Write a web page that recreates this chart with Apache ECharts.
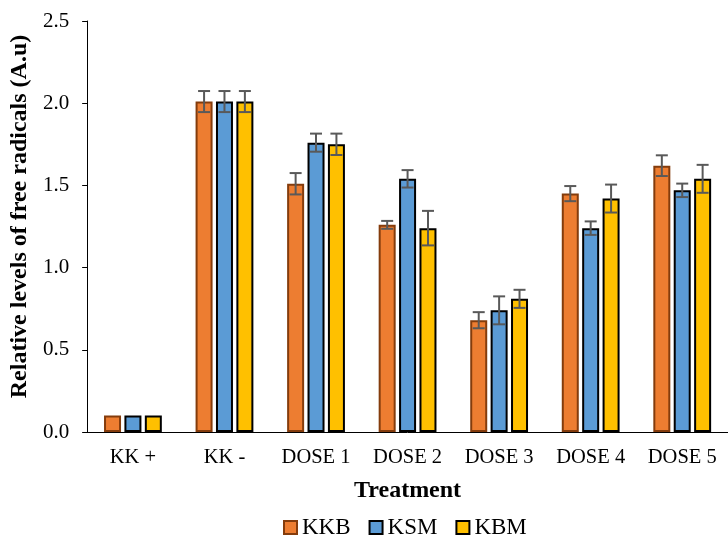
<!DOCTYPE html>
<html>
<head>
<meta charset="utf-8">
<script src="https://cdn.jsdelivr.net/npm/echarts@6/dist/echarts.min.js"></script>
<style>
html,body{margin:0;padding:0;background:#fff;}
#chart{width:728px;height:538px;}
</style>
</head>
<body>
<div id="chart"></div>
<script>
// categories and values
var categories = ['KK +', 'KK -', 'DOSE 1', 'DOSE 2', 'DOSE 3', 'DOSE 4', 'DOSE 5'];
var seriesNames = ['KKB', 'KSM', 'KBM'];
var kkb = [0.10, 2.01, 1.51, 1.26, 0.68, 1.45, 1.62];
var ksm = [0.10, 2.01, 1.76, 1.54, 0.74, 1.24, 1.47];
var kbm = [0.10, 2.01, 1.75, 1.24, 0.81, 1.42, 1.54];
var kkbErr = [0, 0.064, 0.065, 0.024, 0.049, 0.046, 0.063];
var ksmErr = [0, 0.064, 0.055, 0.053, 0.085, 0.041, 0.041];
var kbmErr = [0, 0.064, 0.065, 0.105, 0.055, 0.085, 0.085];
var yTicks = ['0.0', '0.5', '1.0', '1.5', '2.0', '2.5'];

var values = [kkb, ksm, kbm];
var errors = [kkbErr, ksmErr, kbmErr];
var fills = ['#ED7D31', '#5B9BD5', '#FFC000'];
var borders = ['#843C0C', '#000000', '#000000'];
var barW = 17;
var gapW = 3.4;
var font = '"Liberation Serif", "Times New Roman", serif';

var myChart = echarts.init(document.getElementById('chart'));

var series = [];
for (var s = 0; s < 3; s++) {
	series.push({
		name: seriesNames[s],
		type: 'bar',
		data: values[s],
		barWidth: barW,
		barGap: '20%',
		itemStyle: { color: fills[s], borderColor: borders[s], borderWidth: 2 }
	});
}
// error bars, placed on the same category scale as the bars
for (var s = 0; s < 3; s++) {
	var errData = [];
	for (var i = 0; i < categories.length; i++) {
		if (errors[s][i] > 0) {
			errData.push([i, values[s][i] - errors[s][i], values[s][i] + errors[s][i]]);
		}
	}
	series.push({
		type: 'custom',
		name: seriesNames[s],
		z: 5,
		silent: true,
		data: errData,
		renderItem: (function (idx) {
			return function (params, api) {
				var off = (idx - 1) * (barW + gapW);
				var lo = api.coord([api.value(0), api.value(1)]);
				var hi = api.coord([api.value(0), api.value(2)]);
				var x = lo[0] + off;
				var cap = 6;
				var st = { stroke: '#595959', lineWidth: 2 };
				return {
					type: 'group',
					children: [
						{ type: 'line', shape: { x1: x, y1: hi[1], x2: x, y2: lo[1] }, style: st },
						{ type: 'line', shape: { x1: x - cap, y1: hi[1], x2: x + cap, y2: hi[1] }, style: st },
						{ type: 'line', shape: { x1: x - cap, y1: lo[1], x2: x + cap, y2: lo[1] }, style: st }
					]
				};
			};
		})(s)
	});
}

var option = {
	animation: false,
	backgroundColor: '#fff',
	grid: { left: 85, top: 21, width: 649, bottom: 106 },
	legend: {
		data: seriesNames,
		top: 511,
		left: 278,
		icon: 'rect',
		itemWidth: 13,
		itemHeight: 13,
		itemGap: 18,
		textStyle: { fontFamily: font, fontSize: 23, color: '#000' }
	},
	xAxis: {
		type: 'category',
		data: categories,
		name: 'Treatment',
		nameLocation: 'middle',
		nameGap: 47,
		nameTextStyle: { fontFamily: font, fontSize: 24, fontWeight: 'bold', color: '#000' },
		axisLine: { lineStyle: { color: '#000', width: 1 } },
		axisTick: { show: false },
		axisLabel: { fontFamily: font, fontSize: 20.5, color: '#000', margin: 15, interval: 0 }
	},
	yAxis: {
		type: 'value',
		min: 0,
		max: 2.5,
		interval: 0.5,
		name: 'Relative levels of free radicals (A.u)',
		nameLocation: 'middle',
		nameGap: 48,
		nameTextStyle: { fontFamily: font, fontSize: 24, fontWeight: 'bold', color: '#000', padding: [0, 0, 0, 20] },
		axisLine: { show: true, lineStyle: { color: '#000', width: 1 } },
		axisTick: { show: true, length: 5, lineStyle: { color: '#000' } },
		splitLine: { show: false },
		axisLabel: {
			fontFamily: font, fontSize: 21, color: '#000', margin: 18,
			formatter: function (v) { return yTicks[Math.round(v / 0.5)]; }
		}
	},
	series: series
};
myChart.setOption(option);
</script>
</body>
</html>
